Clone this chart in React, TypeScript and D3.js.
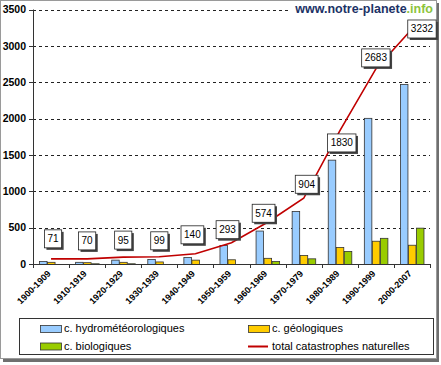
import * as d3 from 'd3';

const categories = ['1900-1909', '1910-1919', '1920-1929', '1930-1939', '1940-1949', '1950-1959',
  '1960-1969', '1970-1979', '1980-1989', '1990-1999', '2000-2007'];
const hydro = [40, 30, 60, 70, 95, 260, 460, 730, 1435, 2010, 2475];
const geo = [30, 25, 30, 35, 60, 65, 85, 125, 235, 320, 265];
const bio = [0, 10, 10, 0, 0, 0, 40, 78, 180, 360, 500];
const total = [71, 70, 95, 99, 140, 293, 574, 904, 1830, 2683, 3232];
const yTicks = [0, 500, 1000, 1500, 2000, 2500, 3000, 3500];
// nudges of the value boxes, in px, as placed in the original
const labelShift: [number, number][] = [[2, -20], [0, -18], [0, -17], [0, -16], [-3, -19], [-4, -13],
  [-4, -9], [3, -14], [2, 12], [0, -11], [10, 0]];

const seriesNames = ['c. hydrométéorologiques', 'c. géologiques', 'c. biologiques'];
const colors = ['#99ccff', '#ffcc00', '#99cc00'];

export default function App() {
  const W = 441, H = 365;
  const left = 33, right = 430, top = 9.5, bottom = 264;
  const x0 = d3.scaleBand<string>().domain(categories).range([left, right])
    .paddingInner(1 / 3).paddingOuter(1 / 6);
  const x1 = d3.scaleBand<number>().domain([0, 1, 2]).range([0, x0.bandwidth()]);
  const y = d3.scaleLinear().domain([0, 3500]).range([bottom, top]);
  const cx = (c: string) => (x0(c) ?? 0) + x0.bandwidth() / 2;
  const series = [hydro, geo, bio];
  const line = d3.line<number>().x((_, i) => cx(categories[i])).y(d => y(d));
  const font = 'Arial, "Liberation Sans", sans-serif';
  const step = x0.step();

  return (
    <svg width={W} height={H} style={{ position: 'absolute', left: 0, top: 0, fontFamily: font }}>
      <rect width={W} height={H} fill="#fff" />
      {/* frame with shadow */}
      <rect x={3} y={3} width={436} height={359} fill="#6f6f6f" />
      <rect x={0.5} y={0.5} width={436} height={358} fill="#fff" stroke="#9a9a9a" />

      {yTicks.map(t => (
        <g key={t}>
          {t > 0 && <line x1={left} x2={right} y1={Math.round(y(t)) + 0.5} y2={Math.round(y(t)) + 0.5}
            stroke="#222" strokeDasharray="3,3" />}
          <line x1={left - 4} x2={left} y1={Math.round(y(t)) + 0.5} y2={Math.round(y(t)) + 0.5} stroke="#333" />
          <text x={26} y={y(t)} dy="0.35em" textAnchor="end" fontSize={10.5} fontWeight="bold">{t}</text>
        </g>
      ))}

      {categories.map((c, i) => series.map((s, k) => s[i] > 0 && (
        <rect key={c + k} x={(x0(c) ?? 0) + (x1(k) ?? 0) + 0.5} y={y(s[i]) + 0.5}
          width={x1.bandwidth() - 0.5} height={bottom - y(s[i])} fill={colors[k]} stroke="#333" strokeWidth={0.8} />
      )))}

      <line x1={left + 0.5} x2={left + 0.5} y1={top} y2={bottom} stroke="#333" />
      <line x1={left} x2={right} y1={bottom + 0.5} y2={bottom + 0.5} stroke="#333" />
      {d3.range(categories.length + 1).map(i => (
        <line key={i} x1={Math.round(left + i * step) + 0.5} x2={Math.round(left + i * step) + 0.5}
          y1={bottom} y2={bottom + 4} stroke="#333" />
      ))}
      {categories.map(c => (
        <text key={c} transform={`translate(${cx(c) - 2},${bottom + 8}) rotate(-45)`} textAnchor="end"
          dy="0.35em" fontSize={9} fontWeight="bold">{c}</text>
      ))}

      <path d={line(total) ?? ''} fill="none" stroke="#c00000" strokeWidth={1.6} />
      {total.map((v, i) => {
        const px = cx(categories[i]) + labelShift[i][0];
        const py = y(v) + labelShift[i][1];
        const w = String(v).length * 5.6 + 6, h = 18;
        return (
          <g key={i}>
            <rect x={px - w / 2 + 2} y={py - h / 2 + 2} width={w} height={h} fill="#444" />
            <rect x={px - w / 2} y={py - h / 2} width={w} height={h} fill="#fff" stroke="#222" strokeWidth={0.8} />
            <text x={px} y={py} dy="0.35em" textAnchor="middle" fontSize={10}>{v}</text>
          </g>
        );
      })}

      <rect x={290} y={2} width={145} height={15} fill="#fff" />
      <text x={433} y={13} textAnchor="end" fontSize={12.5} fontWeight="bold" fill="#1c3266">
        www.notre-planete<tspan fill="#8cc43c">.info</tspan>
      </text>

      {/* legend */}
      <rect x={19.5} y={318.5} width={414} height={36} fill="#fff" stroke="#333" />
      {[0, 1, 2].map(k => {
        const lx = k === 1 ? 248 : 40;
        const ly = k === 2 ? 346 : 328.5;
        return (
          <g key={k}>
            <rect x={lx + 0.5} y={ly - 3} width={21} height={7} fill={colors[k]} stroke="#333" strokeWidth={0.8} />
            <text x={lx + 24} y={ly} dy="0.35em" fontSize={11}>{seriesNames[k]}</text>
          </g>
        );
      })}
      <line x1={248} x2={268} y1={346.5} y2={346.5} stroke="#c00000" strokeWidth={2} />
      <text x={272} y={346} dy="0.35em" fontSize={11}>total catastrophes naturelles</text>
    </svg>
  );
}
